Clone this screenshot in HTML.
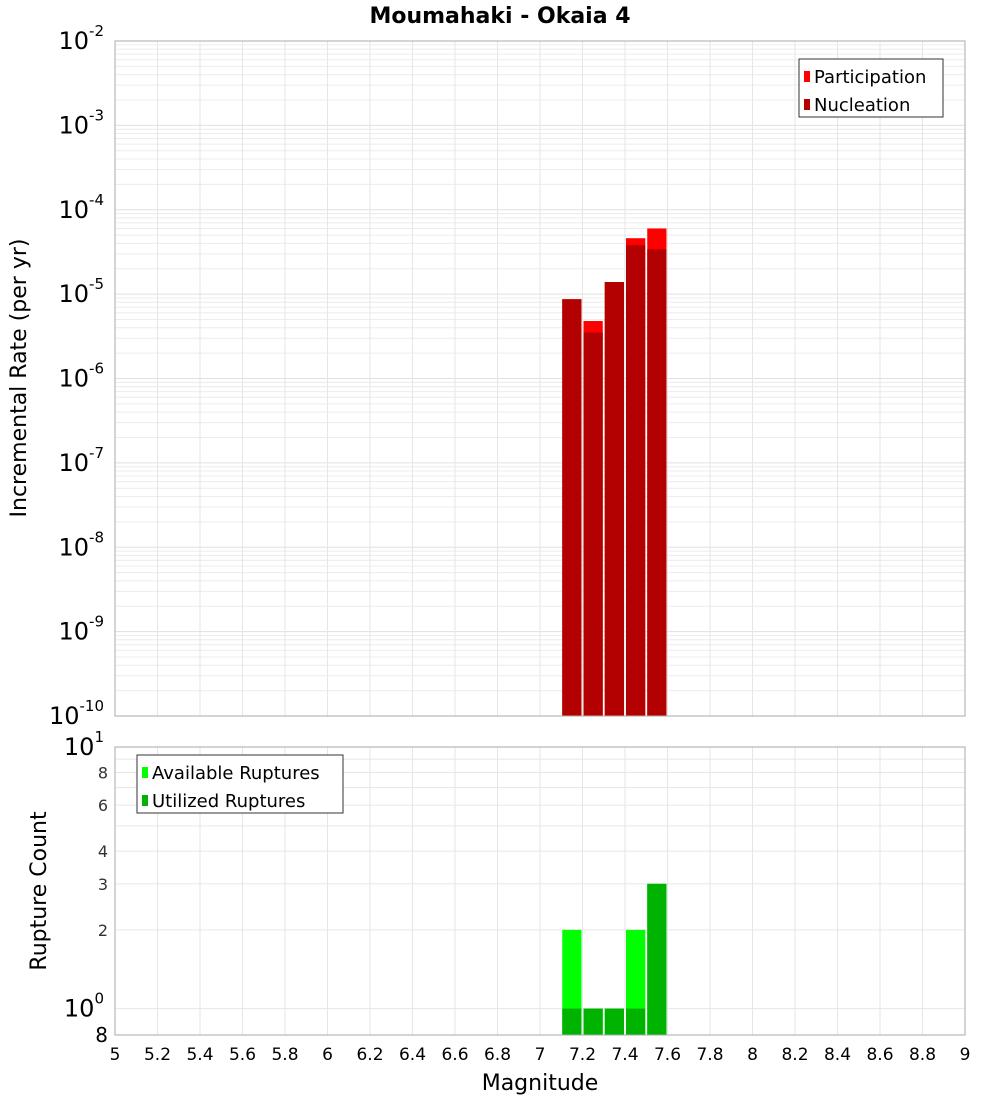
<!DOCTYPE html>
<html><head><meta charset="utf-8"><style>
body{margin:0;background:#fff;font-family:"DejaVu Sans","Liberation Sans",sans-serif}
svg text{font-family:"DejaVu Sans","Liberation Sans",sans-serif}
</style></head><body>
<svg id="c" width="1000" height="1100"></svg>
<script>
const mags=[7.15,7.25,7.35,7.45,7.55];
const participation=[8.7e-6,4.8e-6,1.39e-5,4.6e-5,6.0e-5];
const nucleation=[8.7e-6,3.5e-6,1.39e-5,3.8e-5,3.4e-5];
const available=[2,1,1,2,3];
const utilized=[1,1,1,1,3];
const xTicks=[5,5.2,5.4,5.6,5.8,6,6.2,6.4,6.6,6.8,7,7.2,7.4,7.6,7.8,8,8.2,8.4,8.6,8.8,9];
const topExps=[-10,-9,-8,-7,-6,-5,-4,-3,-2];
const botMinor=[2,3,4,6,8];

const svg=document.getElementById('c');const NS='http://www.w3.org/2000/svg';
function el(t,a,p){const e=document.createElementNS(NS,t);for(const k in a)e.setAttribute(k,a[k]);(p||svg).appendChild(e);return e;}
const L=115,R=965,T1=41,B1=716,T2=747,B2=1035;
const x=m=>L+(m-5)/4*(R-L);
const y1=v=>B1-(Math.log10(v)+10)/8*(B1-T1);
const dec2=261.5,y2=v=>1008.6-Math.log10(v)*dec2;
const bw=x(5.1)-x(5);

// grids
let g=el('g',{});
for(let e=-10;e<-2;e++)for(let k=1;k<10;k++){const yy=y1(k*Math.pow(10,e));el('line',{x1:L,x2:R,y1:yy,y2:yy,stroke:k==1?'#e0e0e0':'#ececec','stroke-width':1},g);}
xTicks.forEach(t=>el('line',{x1:x(t),x2:x(t),y1:T1,y2:B1,stroke:'#e6e6e6'},g));
let g2=el('g',{});
for(let k=1;k<=10;k++){const yy=y2(k);if(yy>=T2&&yy<=B2)el('line',{x1:L,x2:R,y1:yy,y2:yy,stroke:'#e6e6e6'},g2);}
xTicks.forEach(t=>el('line',{x1:x(t),x2:x(t),y1:T2,y2:B2,stroke:'#e6e6e6'},g2));

// top bars
mags.forEach((m,i)=>{
 let r=el('rect',{x:x(m)-bw/2+1,y:y1(participation[i]),width:bw-2,height:B1-y1(participation[i]),fill:'#ff0000'});
 
 let n=el('rect',{x:x(m)-bw/2+1,y:y1(nucleation[i]),width:bw-2,height:B1-y1(nucleation[i]),fill:'#b30000'});
 
});
mags.forEach((m,i)=>{
 let r=el('rect',{x:x(m)-bw/2+1,y:y2(available[i]),width:bw-2,height:B2-y2(available[i]),fill:'#00ff00'});
 
 let n=el('rect',{x:x(m)-bw/2+1,y:y2(utilized[i]),width:bw-2,height:B2-y2(utilized[i]),fill:'#00b300'});
 
});
// frames
let f1=el('rect',{x:L,y:T1,width:R-L,height:B1-T1,fill:'none',stroke:'#aaa'});
let f2=el('rect',{x:L,y:T2,width:R-L,height:B2-T2,fill:'none',stroke:'#aaa'});

// top y labels
topExps.forEach(e=>{const yy=y1(Math.pow(10,e));
 let t=el('text',{x:104,y:yy+8,'text-anchor':'end','font-size':24,fill:'#000'});
 
 t.textContent='10';
 let s=el('tspan',{dy:-13,'font-size':15},t);s.textContent=String(e);
});
// bottom y labels
[[10,'1'],[1,'0'],[0.8,null]].forEach(([v,ex])=>{const yy=y2(v);
 let t=el('text',{x:ex?104:108,y:yy+(ex?8:8),'text-anchor':'end','font-size':ex?24:20,fill:'#000'});
 
 if(ex){t.textContent='10';let s=el('tspan',{dy:-13,'font-size':15},t);s.textContent=ex;}else t.textContent='8';
});
botMinor.forEach(v=>{let t=el('text',{x:108,y:y2(v)+6,'text-anchor':'end','font-size':16,fill:'#333'});
 t.textContent=v;});
// x labels
xTicks.forEach(tk=>{let t=el('text',{x:x(tk),y:1060,'text-anchor':'middle','font-size':17,fill:'#000'});
 t.textContent=String(tk);});
// titles
let tt=el('text',{x:500,y:23,'text-anchor':'middle','font-size':22,'font-weight':'bold'});tt.textContent='Moumahaki - Okaia 4';
let xt=el('text',{x:540,y:1090,'text-anchor':'middle','font-size':22});xt.textContent='Magnitude';
let yt=el('text',{x:0,y:0,'text-anchor':'middle','font-size':22,transform:'translate(26,378) rotate(-90)'});yt.textContent='Incremental Rate (per yr)';
let yt2=el('text',{x:0,y:0,'text-anchor':'middle','font-size':22,transform:'translate(46,891) rotate(-90)'});yt2.textContent='Rupture Count';

// legends
function legend(x0,y0,w,items,name){const lg=el('g',{});
 el('rect',{x:x0,y:y0,width:w,height:58,fill:'#fff',stroke:'#333'},lg);
 items.forEach((it,i)=>{el('rect',{x:x0+5,y:y0+12+i*28,width:6,height:11,fill:it[1]},lg);
  let t=el('text',{x:x0+15,y:y0+24+i*28,'font-size':18},lg);t.textContent=it[0];});}
legend(799,59,144,[['Participation','#ff0000'],['Nucleation','#b30000']],'top-legend');
legend(137,755,206,[['Available Ruptures','#00ff00'],['Utilized Ruptures','#00b300']],'bottom-legend');
</script>
</body></html>
